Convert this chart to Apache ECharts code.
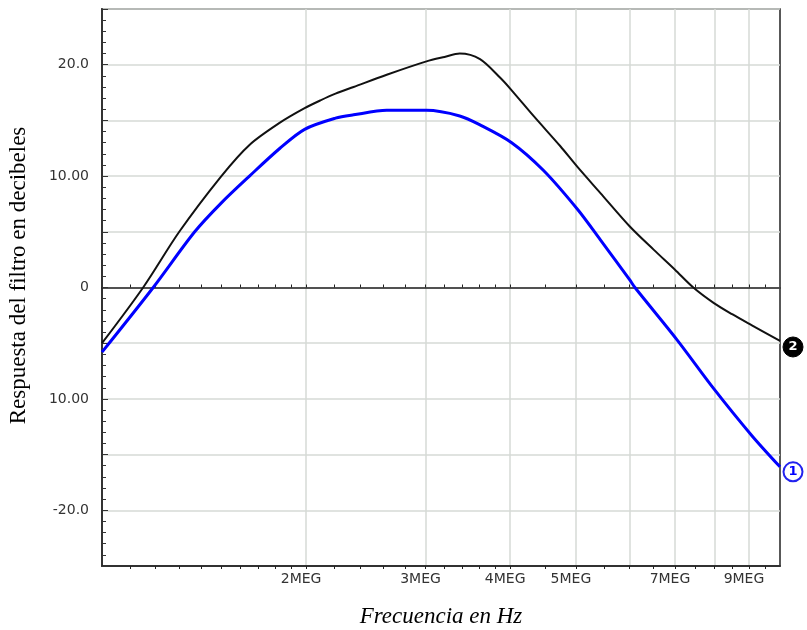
<!DOCTYPE html>
<html>
<head>
<meta charset="utf-8">
<script src="https://cdn.jsdelivr.net/npm/echarts@6/dist/echarts.min.js"></script>
<style>html,body{margin:0;padding:0;background:#fff}#c{width:807px;height:630px}</style>
</head>
<body>
<div id="c"></div>
<script>
// Frequencies in MHz ("MEG") and responses in dB
const freq2 = [1.00, 1.15, 1.30, 1.50, 1.65, 1.83, 1.99, 2.10, 2.21, 2.35, 2.63, 3.01, 3.20, 3.37, 3.61, 3.87, 4.02, 4.33, 4.74, 5.03, 5.43, 6.00, 6.51, 7.00, 7.45, 7.99, 8.50, 9.09, 10.0];
const resp2 = [-5.0, 0.0, 5.0, 10.0, 12.8, 14.8, 16.1, 16.8, 17.4, 18.0, 19.1, 20.3, 20.7, 21.0, 20.5, 18.8, 17.7, 15.4, 12.7, 10.8, 8.5, 5.5, 3.4, 1.6, 0.0, -1.4, -2.4, -3.4, -4.8];

const freq1 = [1.00, 1.19, 1.37, 1.50, 1.65, 1.83, 1.99, 2.21, 2.35, 2.63, 3.01, 3.37, 3.61, 4.02, 4.48, 5.03, 5.43, 6.00, 6.11, 7.04, 7.99, 9.09, 10.0];
const resp1 = [-5.8, 0.0, 5.0, 7.6, 10.0, 12.5, 14.2, 15.2, 15.5, 15.9, 15.9, 15.4, 14.6, 13.0, 10.5, 7.0, 4.3, 0.7, 0.0, -4.65, -9.1, -13.3, -16.1];

const xLabelValues = [2, 3, 4, 5, 7, 9];
const xGridValues = [2, 3, 4, 5, 6, 7, 8, 9];
const zeroTickValues = [1.1, 1.2, 1.3, 1.4, 1.5, 1.6, 1.7, 1.8, 1.9, 2, 2.2, 2.4, 2.6, 2.8, 3, 3.2, 3.4, 3.6, 3.8, 4, 4.5, 5, 5.5, 6, 6.5, 7, 7.5, 8, 8.5, 9, 9.5];
const yTickValues = [20, 10, 0, -10, -20];
const yTickLabels = ['20.0', '10.00', '0', '10.00', '-20.0'];

const pairs = (xs, ys) => xs.map((x, i) => [x, ys[i]]);

const chart = echarts.init(document.getElementById('c'), null, {renderer: 'canvas'});
const labelFont = {fontFamily: 'DejaVu Sans', fontSize: 14, color: '#333'};
const zeroAxisBase = {
  type: 'log', logBase: 10, min: 1, max: 10,
  axisLine: {show: true, onZero: true, lineStyle: {color: '#222', width: 1.5}},
  axisTick: {show: true, customValues: zeroTickValues, length: 3, lineStyle: {color: '#222', width: 1}},
  axisLabel: {show: false},
  splitLine: {show: false}
};
chart.setOption({
  animation: false,
  backgroundColor: '#fff',
  grid: {left: 102, right: 27, top: 9, bottom: 64, outerBoundsMode: 'none', containLabel: false,
         show: true, borderColor: '#222', borderWidth: 1.5, backgroundColor: 'transparent'},
  xAxis: [
    {
      type: 'log', logBase: 10, min: 1, max: 10, position: 'bottom',
      axisLine: {show: true, onZero: false, lineStyle: {color: '#444', width: 1.5}},
      axisTick: {show: false, customValues: xGridValues},
      splitLine: {show: true, lineStyle: {color: '#d6dad6', width: 1.5}},
      axisLabel: Object.assign({customValues: xLabelValues, formatter: v => v + 'MEG', margin: 6, padding: [0, 10, 0, 0]}, labelFont),
      name: 'Frecuencia en Hz', nameLocation: 'middle', nameGap: 39,
      nameTextStyle: {fontFamily: 'Liberation Serif', fontStyle: 'italic', fontSize: 23, color: '#000'}
    },
    Object.assign({position: 'top'}, zeroAxisBase),
    Object.assign({position: 'bottom'}, zeroAxisBase)
  ],
  yAxis: {
    type: 'value', min: -25, max: 25, interval: 5,
    axisLine: {show: true, lineStyle: {color: '#333', width: 2}},
    axisTick: {show: true, inside: true, length: 6, lineStyle: {color: '#333'}},
    minorTick: {show: true, splitNumber: 5, length: 4, lineStyle: {color: '#333'}},
    splitLine: {show: true, lineStyle: {color: '#d6dad6', width: 1.5}},
    axisLabel: Object.assign({
      customValues: yTickValues, margin: 13,
      formatter: v => { const i = yTickValues.indexOf(v); return i >= 0 ? yTickLabels[i] : ''; }
    }, labelFont),
    name: 'Respuesta del filtro en decibeles', nameLocation: 'middle', nameGap: 72,
    nameTextStyle: {fontFamily: 'Liberation Serif', fontSize: 23, color: '#000', padding: [0, 0, 0, 24]}
  },
  series: [
    {
      name: '2', type: 'line', xAxisIndex: 0, data: pairs(freq2, resp2),
      showSymbol: false, smooth: 0.3, z: 3,
      lineStyle: {color: '#111', width: 2},
      markPoint: {
        symbol: 'circle', symbolSize: 20, symbolOffset: [13, 6], silent: true,
        itemStyle: {color: '#000', borderColor: '#000', borderWidth: 1},
        label: {show: true, position: 'inside', formatter: '2', color: '#fff', fontWeight: 'bold', fontSize: 13, fontFamily: 'DejaVu Sans'},
        data: [{coord: [freq2[freq2.length - 1], resp2[resp2.length - 1]]}]
      }
    },
    {
      name: '1', type: 'line', xAxisIndex: 0, data: pairs(freq1, resp1),
      showSymbol: false, smooth: 0.3, z: 4,
      lineStyle: {color: '#0000ff', width: 3},
      markPoint: {
        symbol: 'circle', symbolSize: 19, symbolOffset: [13, 5], silent: true,
        itemStyle: {color: '#fff', borderColor: '#2222ee', borderWidth: 2},
        label: {show: true, position: 'inside', formatter: '1', color: '#0000ff', fontWeight: 'bold', fontSize: 13, fontFamily: 'DejaVu Sans'},
        data: [{coord: [freq1[freq1.length - 1], resp1[resp1.length - 1]]}]
      }
    }
  ]
});
</script>
</body>
</html>
